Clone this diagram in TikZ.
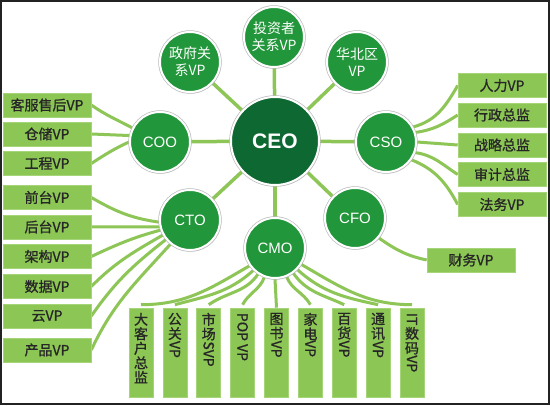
\documentclass[tikz,border=0pt]{standalone}
\usepackage{fontspec}
\usepackage{graphicx}
\setmainfont{Liberation Sans}
\newfontfamily\cjk[FakeBold=1]{Noto Sans CJK SC}
\newfontfamily\cjkw{Noto Sans CJK SC}
\usetikzlibrary{shadows,backgrounds}
\definecolor{lg}{HTML}{8DC657}
\definecolor{bx}{HTML}{8CC654}
\definecolor{bxe}{HTML}{A6D479}
\definecolor{mg}{HTML}{22963A}
\definecolor{dg}{HTML}{0E6832}
\definecolor{framec}{HTML}{222222}
\definecolor{rimc}{HTML}{BBBBBB}
\newcommand{\rv}[1]{\rotatebox[origin=c]{-90}{#1}}
\tikzset{
 sat/.style={circle, fill=mg, draw=white, line width=2pt, minimum size=60pt, inner sep=0pt,
   text=white, align=center, font=\cjkw\fontsize{14}{17}\selectfont,
   drop shadow={shadow xshift=1.2pt, shadow yshift=-1.5pt, opacity=0.3},
   preaction={draw=rimc, line width=3.4pt}},
 latsat/.style={sat, font=\fontsize{15}{17}\selectfont},
 ceonode/.style={sat, fill=dg, minimum size=88pt, font=\bfseries\fontsize{21}{24}\selectfont},
 hbox/.style={rectangle, fill=bx, draw=bxe, line width=0.6pt, minimum width=88pt,
   minimum height=24pt, inner sep=0pt, font=\cjk\fontsize{14}{16}\selectfont, text=black!85},
 vbox/.style={rectangle, fill=bx, draw=bxe, line width=0.6pt, minimum width=24pt,
   minimum height=89pt, inner sep=0pt},
 vtext/.style={anchor=north, inner sep=0pt, align=center,
   font=\cjk\fontsize{14}{14.5}\selectfont, text=black!85},
 spoke/.style={lg, line width=3.5pt},
 conn/.style={lg, line width=3pt},
}
\begin{document}
\begin{tikzpicture}[x=1pt,y=1pt]
\useasboundingbox (0,0) rectangle (550,406);
% circles
\node[ceonode] (ceo) at (275,265) {CEO};
\node[sat] (inv) at (274,369) {投资者\\关系VP};
\node[sat] (gov) at (190,344) {政府关\\系VP};
\node[sat] (hb) at (357,344) {华北区\\VP};
\node[latsat] (coo) at (160,264) {COO};
\node[latsat] (cso) at (386,264) {CSO};
\node[latsat] (cto) at (190,186) {CTO};
\node[latsat] (cmo) at (275,158) {CMO};
\node[latsat] (cfo) at (355,188) {CFO};
% left boxes
\node[hbox] (kf) at (47,301) {客服售后VP};
\node[hbox] (cc) at (47,272) {仓储VP};
\node[hbox] (gc) at (47,242.5) {工程VP};
\node[hbox] (qt) at (47,208.5) {前台VP};
\node[hbox] (ht) at (47,179) {后台VP};
\node[hbox] (jg) at (47,149.5) {架构VP};
\node[hbox] (sj) at (47,119.5) {数据VP};
\node[hbox] (yun) at (47,90) {云VP};
\node[hbox] (cp) at (47,56) {产品VP};
% right boxes
\node[hbox] (rl) at (502,320.5) {人力VP};
\node[hbox] (xz) at (502,291) {行政总监};
\node[hbox] (zl) at (502,261) {战略总监};
\node[hbox] (shj) at (502,231.5) {审计总监};
\node[hbox] (fw) at (502,201.5) {法务VP};
\node[hbox] (cw) at (471,146) {财务VP};
% bottom boxes
\node[vbox] (v1) at (141,53.5) {};
\node[vbox] (v2) at (174.9,53.5) {};
\node[vbox] (v3) at (208.75,53.5) {};
\node[vbox] (v4) at (242.6,53.5) {};
\node[vbox] (v5) at (276.5,53.5) {};
\node[vbox] (v6) at (310.4,53.5) {};
\node[vbox] (v7) at (344.25,53.5) {};
\node[vbox] (v8) at (378.1,53.5) {};
\node[vbox] (v9) at (412,53.5) {};
\node[vtext] (t1) at ([yshift=-5pt]v1.north) {大\\客\\户\\总\\监};
\node[vtext] (t2) at ([yshift=-5pt]v2.north) {公\\关\\\rv{VP}};
\node[vtext] (t3) at ([yshift=-5pt]v3.north) {市\\场\\\rv{SVP}};
\node[vtext] (t4) at ([yshift=-5pt]v4.north) {\rv{POP VP}};
\node[vtext] (t5) at ([yshift=-5pt]v5.north) {图\\书\\\rv{VP}};
\node[vtext] (t6) at ([yshift=-5pt]v6.north) {家\\电\\\rv{VP}};
\node[vtext] (t7) at ([yshift=-5pt]v7.north) {百\\货\\\rv{VP}};
\node[vtext] (t8) at ([yshift=-5pt]v8.north) {通\\讯\\\rv{VP}};
\node[vtext] (t9) at ([yshift=-5pt]v9.north) {\rv{IT}\\数\\码\\\rv{VP}};
% connectors
\begin{scope}[on background layer]
\fill[white] (0,0) rectangle (550,406);
\draw[spoke] (ceo) -- (inv);
\draw[spoke] (ceo) -- (gov);
\draw[spoke] (ceo) -- (hb);
\draw[spoke] (ceo) -- (coo);
\draw[spoke] (ceo) -- (cso);
\draw[spoke] (ceo) -- (cto);
\draw[spoke] (ceo) -- (cmo);
\draw[spoke] (ceo) -- (cfo);
% COO
\draw[conn] (kf.east) to[out=-35,in=152] (coo.153);
\draw[conn] (cc.east) -- (coo.168);
\draw[conn] (gc.east) to[out=33,in=205] (coo.180);
% CTO
\draw[conn] (qt.east) to[out=-30,in=172] (cto.184);
\draw[conn] (ht.east) -- (cto.193);
\draw[conn] (jg.east) to[out=25,in=195] (cto.199);
\draw[conn] (sj.east) to[out=45,in=210] (cto.209);
\draw[conn] (yun.east) to[out=55,in=218] (cto.219);
\draw[conn] (cp.east) to[out=65,in=228] (cto.231);
% CSO
\draw[conn] (cso.29) to[out=15,in=240] (rl.west);
\draw[conn] (cso.18) to[out=8,in=213] (xz.west);
\draw[conn] (cso.0) -- (zl.west);
\draw[conn] (cso.-20) to[out=-8,in=147] (shj.west);
\draw[conn] (cso.-35) to[out=-22,in=118] (fw.west);
% CFO
\draw[conn] (cfo.-40) to[out=-35,in=168] (cw.west);
% CMO
\draw[conn] (cmo.215) to[out=210,in=0] ([yshift=3pt]v1.north);
\draw[conn] (cmo.226) to[out=222,in=15] ([yshift=3pt]v2.north);
\draw[conn] (cmo.237) to[out=236,in=35] ([yshift=3pt]v3.north);
\draw[conn] (cmo.250) to[out=250,in=62] ([yshift=3pt]v4.north);
\draw[conn] (cmo.270) -- (v5.north);
\draw[conn] (cmo.292) to[out=292,in=120] ([yshift=3pt]v6.north);
\draw[conn] (cmo.306) to[out=305,in=155] ([yshift=3pt]v7.north);
\draw[conn] (cmo.316) to[out=318,in=168] ([yshift=3pt]v8.north);
\draw[conn] (cmo.328) to[out=330,in=180] ([yshift=3pt]v9.north);
\end{scope}
% frame
\draw[framec, line width=2pt] (1,1.5) rectangle (549,405);
\end{tikzpicture}
\end{document}
